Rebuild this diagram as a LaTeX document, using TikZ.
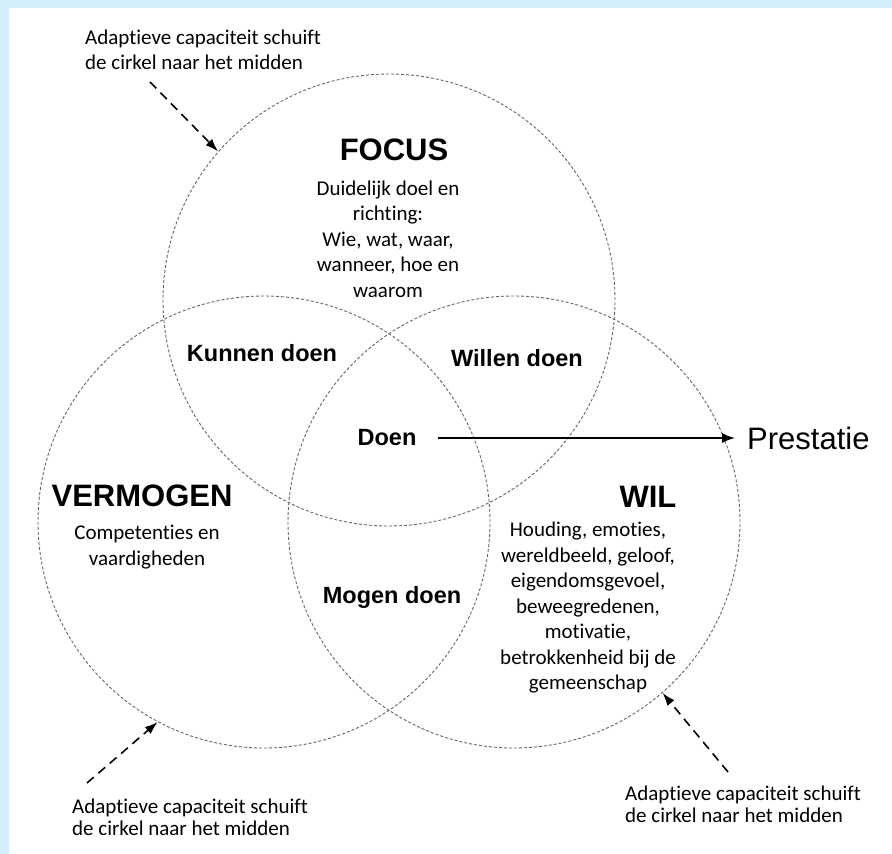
\documentclass[tikz,border=0pt]{standalone}
\usepackage{fontspec}
\setmainfont{Carlito}[Ligatures={NoCommon,NoRare,NoContextual},Contextuals=NoAlternate]
\newfontfamily\headfont{Liberation Sans}
\usetikzlibrary{arrows.meta}
\definecolor{bgblue}{RGB}{210,238,249}
\begin{document}
\begin{tikzpicture}[x=1pt,y=-1pt,
  ring/.style={circle,draw=black!60,dash pattern=on 3pt off 2pt,line width=0.9pt,minimum size=452pt,inner sep=0pt},
  title/.style={font=\headfont\bfseries\fontsize{31}{36}\selectfont,inner sep=0pt},
  region/.style={font=\headfont\bfseries\fontsize{23.5}{28}\selectfont,inner sep=0pt},
  body/.style={font=\fontsize{21}{25.5}\selectfont,align=center,inner sep=0pt},
  note/.style={font=\fontsize{21}{22}\selectfont,align=left,inner sep=0pt,anchor=west},
  shiftarrow/.style={-{Latex[length=13pt,width=9pt]},line width=1.6pt,dash pattern=on 9pt off 6pt},
  outarrow/.style={-{Latex[length=13pt,width=10pt]},line width=1.6pt}
]
\fill[bgblue] (0,0) rectangle (892,854);
\fill[white] (9,8) rectangle (892,854);
\useasboundingbox (0,0) rectangle (892,854);

% circles
\node[ring] (focus) at (389,300) {};
\node[ring] (verm) at (264,522) {};
\node[ring] (wil) at (514,522) {};

% texts
\node[title] (tfocus) at (394,150) {FOCUS};
\node[body] (bfocus) at (388,239) {Duidelijk doel en\\richting:\\Wie, wat, waar,\\wanneer, hoe en\\waarom};
\node[region] (kunnen) at (262,353) {Kunnen doen};
\node[region] (willen) at (517,358) {Willen doen};
\node[region] (doen) at (387,438) {Doen};
\node[region] (mogen) at (392,597) {Mogen doen};
\node[title] (tverm) at (142,496) {VERMOGEN};
\node[body] (bverm) at (147,547) {Competenties en\\vaardigheden};
\node[title] (twil) at (648,497) {WIL};
\node[body] (bwil) at (588,608) {Houding, emoties,\\wereldbeeld, geloof,\\eigendomsgevoel,\\beweegredenen,\\motivatie,\\betrokkenheid bij de\\gemeenschap};
\node[font=\headfont\fontsize{31}{36}\selectfont,inner sep=0pt,anchor=west] (prest) at (747,438) {Prestatie};

% annotations
\node[note,font=\fontsize{21}{25}\selectfont] (nA) at (85,50) {Adaptieve capaciteit schuift\\de cirkel naar het midden};
\node[note] (nB) at (72,817) {Adaptieve capaciteit schuift\\de cirkel naar het midden};
\node[note] (nC) at (625,804) {Adaptieve capaciteit schuift\\de cirkel naar het midden};

% arrows
\coordinate (sA) at (150,82);
\coordinate (sB) at (87,783);
\coordinate (sC) at (728,772);
\draw[shiftarrow] (sA) -- (focus.139);
\draw[shiftarrow] (sB) -- (verm.242);
\draw[shiftarrow] (sC) -- (wil.311.4);
\draw[outarrow,shorten <=21pt,shorten >=12pt] (doen.east) -- (prest.west);
\end{tikzpicture}
\end{document}
